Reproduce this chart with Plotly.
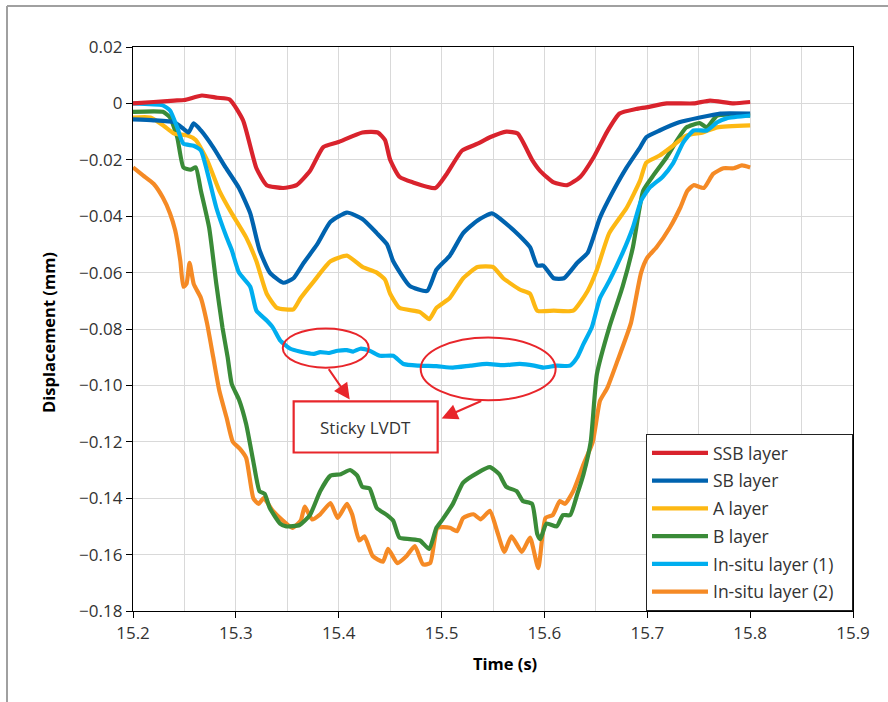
import plotly.graph_objects as go

# ---------------- data ----------------
ssb_t = [15.200, 15.220, 15.240, 15.250, 15.267, 15.282, 15.294, 15.307, 15.320, 15.330, 15.346, 15.359,
         15.372, 15.385, 15.399, 15.423, 15.438, 15.445, 15.450, 15.459, 15.472, 15.494, 15.505, 15.520,
         15.535, 15.547, 15.563, 15.574, 15.588, 15.596, 15.609, 15.622, 15.635, 15.648, 15.661, 15.673,
         15.689, 15.699, 15.719, 15.745, 15.761, 15.784, 15.800]
ssb_y = [0.000, 0.0005, 0.001, 0.0012, 0.0028, 0.002, 0.0014, -0.006, -0.023, -0.029, -0.030, -0.029,
         -0.024, -0.0155, -0.0138, -0.0103, -0.0103, -0.013, -0.020, -0.026, -0.028, -0.030, -0.025, -0.0167,
         -0.0143, -0.012, -0.010, -0.0107, -0.020, -0.024, -0.028, -0.029, -0.026, -0.019, -0.010, -0.0036,
         -0.002, -0.0014, 0.000, 0.000, 0.001, 0.000, 0.0005]

sb_t = [15.200, 15.220, 15.240, 15.249, 15.254, 15.259, 15.266, 15.278, 15.290, 15.303, 15.314, 15.323,
        15.333, 15.346, 15.356, 15.366, 15.379, 15.392, 15.408, 15.423, 15.437, 15.447, 15.453, 15.469,
        15.486, 15.495, 15.508, 15.521, 15.535, 15.549, 15.563, 15.576, 15.586, 15.593, 15.599, 15.609,
        15.619, 15.632, 15.642, 15.654, 15.667, 15.680, 15.693, 15.699, 15.712, 15.731, 15.751, 15.771, 15.800]
sb_y = [-0.0057, -0.006, -0.0067, -0.009, -0.0103, -0.0071, -0.0096, -0.0156, -0.0227, -0.030, -0.039, -0.052,
        -0.060, -0.0636, -0.062, -0.0565, -0.050, -0.042, -0.0387, -0.041, -0.046, -0.050, -0.056, -0.0647,
        -0.0665, -0.059, -0.054, -0.046, -0.0415, -0.039, -0.0427, -0.047, -0.051, -0.0575, -0.0575, -0.062,
        -0.062, -0.0565, -0.053, -0.0405, -0.031, -0.0227, -0.0156, -0.012, -0.0096, -0.0067, -0.005, -0.0036, -0.0036]

a_t = [15.200, 15.217, 15.230, 15.240, 15.253, 15.261, 15.272, 15.284, 15.296, 15.310, 15.320, 15.330,
       15.340, 15.356, 15.363, 15.376, 15.392, 15.408, 15.423, 15.437, 15.445, 15.450, 15.459, 15.479,
       15.488, 15.495, 15.508, 15.521, 15.535, 15.550, 15.560, 15.576, 15.586, 15.593, 15.609, 15.628,
       15.642, 15.651, 15.663, 15.680, 15.693, 15.699, 15.712, 15.725, 15.738, 15.754, 15.768, 15.800]
a_y = [-0.005, -0.005, -0.008, -0.0107, -0.0114, -0.013, -0.020, -0.031, -0.039, -0.0475, -0.056, -0.0675,
       -0.0725, -0.073, -0.069, -0.063, -0.056, -0.054, -0.058, -0.060, -0.0625, -0.0675, -0.0725, -0.074,
       -0.0765, -0.0725, -0.069, -0.062, -0.058, -0.058, -0.062, -0.066, -0.0675, -0.0735, -0.0735, -0.0735,
       -0.0665, -0.059, -0.046, -0.037, -0.0274, -0.021, -0.0185, -0.015, -0.0114, -0.0103, -0.0085, -0.0078]

b_t = [15.200, 15.229, 15.236, 15.243, 15.249, 15.256, 15.261, 15.266, 15.274, 15.281, 15.287, 15.292,
       15.296, 15.303, 15.310, 15.317, 15.323, 15.328, 15.333, 15.343, 15.349, 15.362, 15.372, 15.382,
       15.392, 15.402, 15.411, 15.418, 15.423, 15.430, 15.437, 15.447, 15.453, 15.459, 15.469, 15.479,
       15.488, 15.495, 15.501, 15.511, 15.521, 15.535, 15.547, 15.556, 15.563, 15.573, 15.579, 15.588,
       15.593, 15.596, 15.602, 15.612, 15.618, 15.625, 15.632, 15.638, 15.645, 15.651, 15.663, 15.676,
       15.686, 15.696, 15.705, 15.719, 15.729, 15.738, 15.751, 15.758, 15.768, 15.800]
b_y = [-0.003, -0.003, -0.005, -0.012, -0.0227, -0.0235, -0.0227, -0.031, -0.044, -0.064, -0.0795, -0.090,
       -0.0995, -0.105, -0.1137, -0.127, -0.1375, -0.1385, -0.1435, -0.149, -0.150, -0.1495, -0.146, -0.1375,
       -0.132, -0.1315, -0.130, -0.132, -0.136, -0.1365, -0.1435, -0.146, -0.148, -0.154, -0.1545, -0.155,
       -0.158, -0.1505, -0.1475, -0.142, -0.1345, -0.131, -0.129, -0.1315, -0.136, -0.1375, -0.141, -0.142,
       -0.1527, -0.1545, -0.149, -0.150, -0.146, -0.146, -0.1385, -0.1315, -0.120, -0.096, -0.0795, -0.065,
       -0.051, -0.031, -0.026, -0.019, -0.013, -0.0085, -0.007, -0.0085, -0.0043, -0.0043]

in1_t = [15.200, 15.229, 15.236, 15.243, 15.249, 15.259, 15.266, 15.272, 15.281, 15.291, 15.296, 15.303,
         15.314, 15.320, 15.330, 15.336, 15.343, 15.353, 15.362, 15.369, 15.376, 15.382, 15.390, 15.399,
         15.408, 15.414, 15.421, 15.430, 15.440, 15.453, 15.463, 15.478, 15.495, 15.511, 15.528, 15.544,
         15.560, 15.576, 15.590, 15.599, 15.612, 15.625, 15.632, 15.638, 15.646, 15.654, 15.663, 15.676,
         15.686, 15.694, 15.702, 15.715, 15.725, 15.735, 15.745, 15.758, 15.768, 15.777, 15.800]
in1_y = [0.000, -0.0007, -0.0025, -0.0085, -0.0143, -0.015, -0.0167, -0.024, -0.037, -0.0475, -0.052, -0.060,
         -0.065, -0.0735, -0.077, -0.0795, -0.084, -0.087, -0.0880, -0.0885, -0.0888, -0.0882, -0.0885, -0.0877,
         -0.0875, -0.0880, -0.0870, -0.0877, -0.0895, -0.0895, -0.0924, -0.0930, -0.0932, -0.0937, -0.0930, -0.0924,
         -0.0928, -0.0924, -0.0930, -0.0937, -0.0930, -0.0930, -0.090, -0.0853, -0.0795, -0.069, -0.063, -0.053,
         -0.044, -0.0345, -0.030, -0.026, -0.0213, -0.0138, -0.0096, -0.0096, -0.0067, -0.0053, -0.0043]

in2_t = [15.200, 15.210, 15.220, 15.229, 15.236, 15.241, 15.246, 15.249, 15.252, 15.255, 15.259, 15.266,
         15.272, 15.278, 15.284, 15.291, 15.297, 15.304, 15.310, 15.317, 15.322, 15.327, 15.336, 15.346,
         15.355, 15.363, 15.367, 15.374, 15.382, 15.392, 15.399, 15.408, 15.413, 15.420, 15.425, 15.433,
         15.443, 15.448, 15.457, 15.466, 15.474, 15.482, 15.489, 15.496, 15.508, 15.515, 15.521, 15.531,
         15.538, 15.547, 15.554, 15.561, 15.568, 15.578, 15.586, 15.594, 15.601, 15.608, 15.615, 15.620,
         15.628, 15.638, 15.647, 15.654, 15.661, 15.671, 15.684, 15.694, 15.700, 15.709, 15.722, 15.732,
         15.739, 15.745, 15.755, 15.764, 15.774, 15.784, 15.792, 15.800]
in2_y = [-0.0227, -0.0256, -0.0285, -0.0334, -0.039, -0.045, -0.0558, -0.065, -0.064, -0.0565, -0.064, -0.069,
         -0.078, -0.090, -0.102, -0.1115, -0.120, -0.1225, -0.1257, -0.140, -0.142, -0.140, -0.1445, -0.148,
         -0.1505, -0.148, -0.143, -0.1475, -0.1457, -0.1417, -0.147, -0.142, -0.1457, -0.155, -0.1535, -0.1605,
         -0.1625, -0.158, -0.163, -0.1605, -0.157, -0.1635, -0.163, -0.1505, -0.1505, -0.1517, -0.147, -0.1457,
         -0.1475, -0.1445, -0.1517, -0.159, -0.1535, -0.159, -0.154, -0.1648, -0.147, -0.146, -0.141, -0.142,
         -0.1375, -0.128, -0.120, -0.1055, -0.101, -0.0913, -0.078, -0.060, -0.0547, -0.051, -0.044, -0.037,
         -0.031, -0.029, -0.030, -0.025, -0.023, -0.023, -0.022, -0.0227]

series_names = ["SSB layer", "SB layer", "A layer", "B layer", "In-situ layer (1)", "In-situ layer (2)"]
series_t = [ssb_t, sb_t, a_t, b_t, in1_t, in2_t]
series_y = [ssb_y, sb_y, a_y, b_y, in1_y, in2_y]
colors = ["#D9232D", "#0063AF", "#FDB813", "#3A8B38", "#00AEEF", "#F58A25"]
# draw order: later on top (as in reference)
draw_order = [5, 3, 2, 1, 4, 0]

x_ticks = [15.2, 15.3, 15.4, 15.5, 15.6, 15.7, 15.8, 15.9]
y_ticks = [0.02, 0, -0.02, -0.04, -0.06, -0.08, -0.10, -0.12, -0.14, -0.16, -0.18]
y_ticktext = ["0.02", "0", "\u22120.02", "\u22120.04", "\u22120.06", "\u22120.08", "\u22120.10",
              "\u22120.12", "\u22120.14", "\u22120.16", "\u22120.18"]

FONT = "Open Sans"
TXT = "#333333"
RED = "#E8262B"
PAD = "\u00a0\u00a0\u00a0"  # right padding inside the legend box

fig = go.Figure()
for i in draw_order:
    fig.add_trace(go.Scatter(x=series_t[i], y=series_y[i], mode="lines", name=series_names[i] + PAD,
                             legendgroup=f"g{i}",
                             line=dict(color=colors[i], width=4.2, shape="spline", smoothing=0.5),
                             legendrank=i + 1))

fig.update_layout(
    width=888, height=702,
    margin=dict(l=133, r=35, t=47, b=91),
    paper_bgcolor="white", plot_bgcolor="white",
    font=dict(family=FONT, size=17, color=TXT),
    showlegend=True,
    legend=dict(x=1, y=0, xanchor="right", yanchor="bottom", bgcolor="white",
                bordercolor="#222222", borderwidth=1, font=dict(size=17.5, color=TXT),
                traceorder="grouped", tracegroupgap=2, itemwidth=56),
)
fig.update_xaxes(range=[15.2, 15.9], tickvals=x_ticks, ticktext=[f"{v:.1f}" for v in x_ticks],
                 showline=True, linecolor="black", linewidth=1.3, mirror=True,
                 ticks="outside", ticklen=6, tickcolor="black",
                 showgrid=True, gridcolor="#D9D9D9", gridwidth=1.3, zeroline=False,
                 minor=dict(dtick=0.05, tick0=15.2, showgrid=True, gridcolor="#D9D9D9", gridwidth=1.3))
fig.update_yaxes(range=[-0.18, 0.02], tickvals=y_ticks, ticktext=y_ticktext,
                 showline=True, linecolor="black", linewidth=1.3, mirror=True,
                 ticks="outside", ticklen=6, tickcolor="black",
                 showgrid=True, gridcolor="#D9D9D9", gridwidth=1.3, zeroline=False)

# axis titles
fig.add_annotation(text="<b>Time (s)</b>", x=(505 - 133) / 720, y=-(663 - 611) / 564,
                   xref="paper", yref="paper", xanchor="center", yanchor="middle", showarrow=False,
                   font=dict(size=16.5, color="black"))
fig.add_annotation(text="<b>Displacement (mm)</b>", x=-(133 - 48) / 720, y=(611 - 333) / 564,
                   xref="paper", yref="paper", xanchor="center", yanchor="middle", showarrow=False,
                   textangle=-90, font=dict(size=16.5, color="black"))

# outer frame (gray)
fig.add_shape(type="line", xref="paper", yref="paper", x0=-(133 - 7) / 720, x1=(888 - 133) / 720,
              y0=(611 - 6) / 564, y1=(611 - 6) / 564, line=dict(color="#A0A0A0", width=2))
fig.add_shape(type="line", xref="paper", yref="paper", x0=-(133 - 7) / 720, x1=-(133 - 7) / 720,
              y0=(611 - 6) / 564, y1=-(702 - 611) / 564, line=dict(color="#A0A0A0", width=2))

# "Sticky LVDT" callout
fig.add_shape(type="circle", xref="x", yref="y", x0=15.3456, x1=15.4292, y0=-0.0937, y1=-0.0798,
              line=dict(color=RED, width=2))
fig.add_shape(type="circle", xref="x", yref="y", x0=15.4797, x1=15.6109, y0=-0.1053, y1=-0.0830,
              line=dict(color=RED, width=2))
fig.add_shape(type="rect", xref="x", yref="y", x0=15.3562, x1=15.4962, y0=-0.1238, y1=-0.1057,
              line=dict(color=RED, width=2.2), fillcolor="white")
fig.add_annotation(text="Sticky LVDT", x=15.4262, y=-0.1149, xref="x", yref="y", showarrow=False,
                   font=dict(size=17, color="#333333"))
fig.add_annotation(x=15.4107, y=-0.1050, ax=15.3893, ay=-0.0937, xref="x", yref="y", axref="x", ayref="y",
                   text="", showarrow=True, arrowhead=2, arrowsize=1.6, arrowwidth=2, arrowcolor=RED)
fig.add_annotation(x=15.5001, y=-0.1117, ax=15.5400, ay=-0.1053, xref="x", yref="y", axref="x", ayref="y",
                   text="", showarrow=True, arrowhead=2, arrowsize=1.6, arrowwidth=2, arrowcolor=RED)

fig.write_html("out.html", config={"displayModeBar": False},
               post_script="document.body.style.margin='0';document.body.style.overflow='hidden';")
